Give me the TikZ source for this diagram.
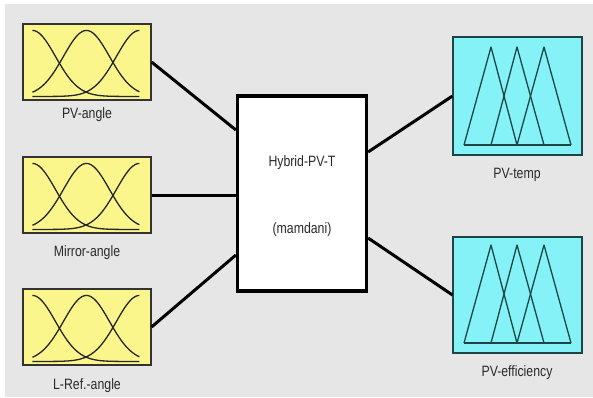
\documentclass[tikz,border=0pt]{standalone}
\usepackage{fontspec}
\setmainfont[FakeStretch=0.82]{Liberation Sans}
\usetikzlibrary{calc}
\definecolor{bgc}{HTML}{E6E6E6}
\definecolor{yel}{HTML}{FAF68C}
\definecolor{cya}{HTML}{84F2F6}
\definecolor{teal}{HTML}{1C4646}
\definecolor{txt}{HTML}{2A2A2A}
\tikzset{
  inbox/.style={draw=black!80, line width=1.1pt, fill=yel, minimum width=128pt, minimum height=76pt, inner sep=0pt},
  outbox/.style={draw=teal, line width=1.1pt, fill=cya, minimum width=129pt, inner sep=0pt},
  hub/.style={draw=black, line width=3.2pt, fill=white, minimum width=129pt, minimum height=195pt, inner sep=0pt},
  lbl/.style={text=txt, font=\fontsize{15}{17}\selectfont, inner sep=0pt},
  conn/.style={line width=3pt, black},
  curve/.style={line width=1.3pt, black!85, line join=round},
}
\begin{document}
\begin{tikzpicture}[x=1pt,y=-1pt]
\useasboundingbox (0,0) rectangle (593,397);
\fill[white] (0,0) rectangle (593,397);
\fill[bgc] (5,4) rectangle (593,397);
% input boxes
\node[inbox] (pva) at (87,62) {};
\node[inbox] (mia) at (87,195) {};
\node[inbox] (lra) at (87,327) {};
\node[lbl] (pval) at (87,115) {PV-angle};
\node[lbl] (mial) at (87,253) {Mirror-angle};
\node[lbl] (lral) at (87,386) {L-Ref.-angle};
% gaussian bells
\foreach \b in {pva,mia,lra}{
  \begin{scope}[shift={(\b.north west)}]
    \foreach \c in {10,64,117}{
      \draw[curve] plot[domain=10:117, samples=70, smooth] (\x,{73-66*exp(-((\x-\c)*(\x-\c))/1058)});
    }
  \end{scope}
}
% hub
\node[hub] (hyb) at (302,193.5) {};
\node[lbl] (hybt) at (302,163) {Hybrid-PV-T};
\node[lbl] (mamt) at (302,230) {(mamdani)};
% output boxes
\node[outbox, minimum height=118pt] (pvt) at (517.5,96) {};
\node[outbox, minimum height=116pt] (pve) at (517.5,295) {};
\node[lbl] (pvtl) at (517,175) {PV-temp};
\node[lbl] (pvel) at (517,373) {PV-efficiency};
% triangles
\foreach \b/\top/\base in {pvt/47/145, pve/245/343}{
  \draw[curve, teal] (464,\base) -- (571,\base);
  \draw[curve, teal] (464,\base) -- (491,\top) -- (517,\base);
  \draw[curve, teal] (491,\base) -- (517,\top) -- (544,\base);
  \draw[curve, teal] (517,\base) -- (544,\top) -- (571,\base);
}
% connectors
\draw[conn] (pva.east) -- (hyb.west |- 0,130);
\draw[conn] (mia.east) -- (hyb.west |- mia.east);
\draw[conn] (lra.east) -- (hyb.west |- 0,255);
\draw[conn] (hyb.east |- 0,152) -- (pvt.west);
\draw[conn] (hyb.east |- 0,238) -- (pve.west);
\end{tikzpicture}
\end{document}
